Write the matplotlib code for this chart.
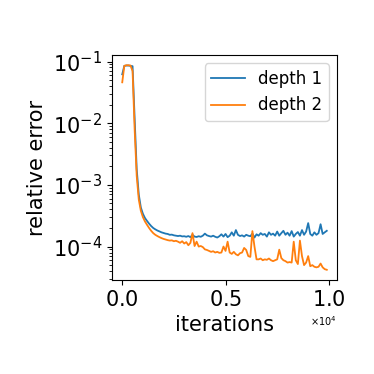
import numpy as np
import matplotlib
matplotlib.use("Agg")
import matplotlib.pyplot as plt

# iterations (every 100 steps)
iters = np.arange(100) * 100

# relative error, depth 1
depth1 = [0.062, 0.085, 0.086, 0.086, 0.085, 0.084, 0.012, 1.8e-3, 7.0e-4, 4.3e-4,
          3.4e-4, 2.9e-4, 2.6e-4, 2.35e-4, 2.15e-4, 2.0e-4, 1.9e-4, 1.82e-4, 1.76e-4, 1.7e-4,
          1.66e-4, 1.62e-4, 1.6e-4, 1.55e-4, 1.56e-4, 1.52e-4, 1.5e-4, 1.48e-4, 1.5e-4, 1.46e-4,
          1.47e-4, 1.44e-4, 1.48e-4, 1.42e-4, 1.55e-4, 1.45e-4, 1.43e-4, 1.47e-4, 1.44e-4, 1.5e-4,
          1.62e-4, 1.52e-4, 1.48e-4, 1.45e-4, 1.5e-4, 1.44e-4, 1.4e-4, 1.47e-4, 1.58e-4, 1.45e-4,
          1.6e-4, 1.42e-4, 1.5e-4, 1.7e-4, 1.5e-4, 1.85e-4, 1.55e-4, 1.48e-4, 1.52e-4, 1.45e-4,
          1.55e-4, 1.5e-4, 1.47e-4, 1.62e-4, 1.4e-4, 1.58e-4, 1.5e-4, 1.65e-4, 1.55e-4, 1.6e-4,
          1.45e-4, 1.7e-4, 1.55e-4, 1.62e-4, 1.5e-4, 1.75e-4, 1.5e-4, 1.65e-4, 1.8e-4, 1.55e-4,
          1.68e-4, 1.5e-4, 1.78e-4, 1.45e-4, 1.6e-4, 1.72e-4, 1.5e-4, 1.85e-4, 1.55e-4, 1.75e-4,
          2.4e-4, 1.6e-4, 1.5e-4, 1.7e-4, 1.55e-4, 1.65e-4, 2.3e-4, 1.6e-4, 1.7e-4, 1.8e-4]

# relative error, depth 2
depth2 = [0.046, 0.085, 0.087, 0.087, 0.086, 0.07, 0.008, 1.4e-3, 5.8e-4, 3.8e-4,
          3.0e-4, 2.55e-4, 2.25e-4, 2.0e-4, 1.8e-4, 1.65e-4, 1.55e-4, 1.48e-4, 1.42e-4, 1.37e-4,
          1.33e-4, 1.3e-4, 1.27e-4, 1.25e-4, 1.26e-4, 1.22e-4, 1.24e-4, 1.2e-4, 1.15e-4, 1.22e-4,
          1.12e-4, 1.18e-4, 1.05e-4, 1.15e-4, 1.65e-4, 1.02e-4, 1.2e-4, 1.0e-4, 1.02e-4, 0.98e-4,
          0.9e-4, 0.88e-4, 0.85e-4, 0.82e-4, 0.84e-4, 0.8e-4, 0.82e-4, 0.79e-4, 0.8e-4, 1.0e-4,
          0.85e-4, 1.2e-4, 0.8e-4, 0.76e-4, 0.82e-4, 0.75e-4, 0.72e-4, 0.78e-4, 0.8e-4, 0.95e-4,
          0.88e-4, 0.7e-4, 0.68e-4, 1.78e-4, 1.0e-4, 0.62e-4, 0.62e-4, 0.64e-4, 0.6e-4, 0.62e-4,
          0.61e-4, 0.64e-4, 0.6e-4, 0.58e-4, 0.6e-4, 0.62e-4, 0.89e-4, 0.65e-4, 0.6e-4, 0.58e-4,
          0.55e-4, 0.56e-4, 0.55e-4, 1.2e-4, 0.6e-4, 0.52e-4, 1.25e-4, 0.7e-4, 0.5e-4, 0.55e-4,
          0.7e-4, 0.48e-4, 0.5e-4, 0.47e-4, 0.46e-4, 0.47e-4, 0.53e-4, 0.46e-4, 0.43e-4, 0.42e-4]

fig = plt.figure(figsize=(3.74, 3.74), dpi=100)
ax = fig.add_axes([0.2995, 0.2513, 0.6016, 0.6016])

ax.plot(iters, depth1, label="depth 1", lw=1.3)
ax.plot(iters, depth2, label="depth 2", lw=1.3)
ax.set_yscale("log")

ax.ticklabel_format(axis="x", style="sci", scilimits=(0, 0), useMathText=True)
ax.xaxis.get_offset_text().set_fontsize(7)
ax.tick_params(labelsize=15)
ax.set_xlabel("iterations", fontsize=15)
ax.set_ylabel("relative error", fontsize=15)
ax.legend(fontsize=12, loc="upper right")

fig.savefig("out.png", dpi=100)
